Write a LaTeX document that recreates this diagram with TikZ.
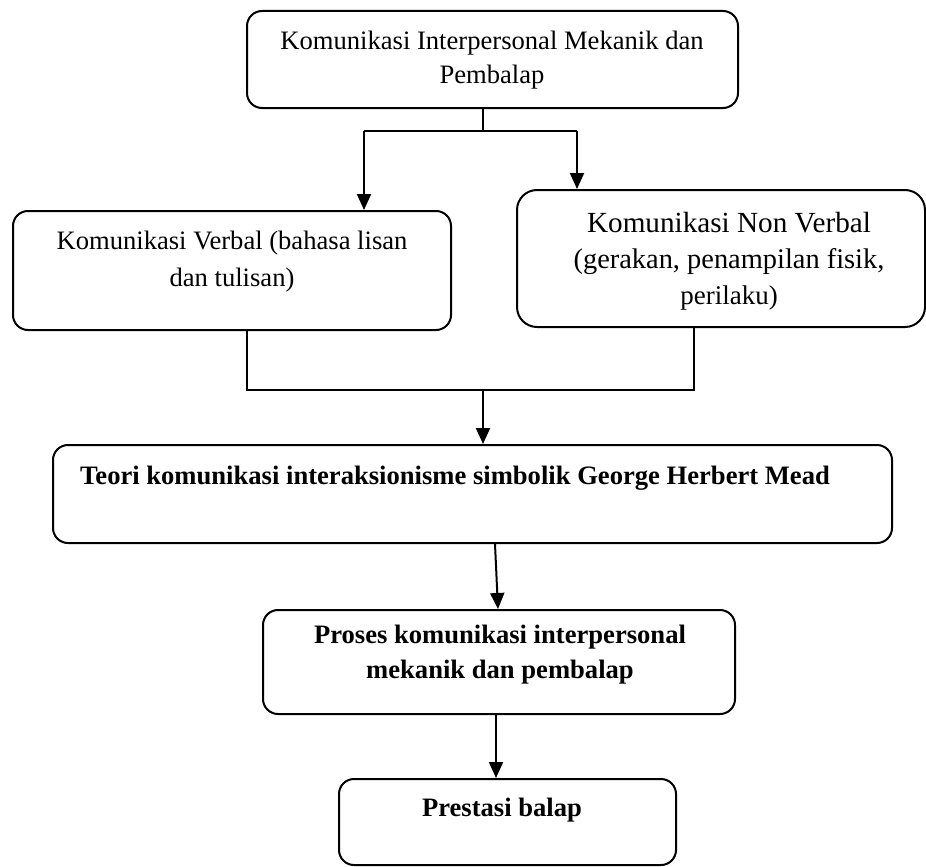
\documentclass[tikz,border=0pt]{standalone}
\usepackage{fontspec}
\setmainfont{Liberation Serif}
\usetikzlibrary{arrows.meta}
\begin{document}
\begin{tikzpicture}[x=1pt,y=-1pt,
  box/.style={draw,line width=2pt,rounded corners=15pt,minimum width=#1,inner sep=0pt},
  lbl/.style={align=center,inner sep=0pt,font=\fontsize{26.6}{35}\selectfont},
  lblb/.style={align=center,inner sep=0pt,font=\fontsize{26.6}{35}\selectfont\bfseries},
  conn/.style={line width=2pt},
  arr/.style={line width=2pt,-{Triangle[width=14pt,length=16pt]}}]
\useasboundingbox (0,0) rectangle (926,867);
% boxes
\node[box=491pt,minimum height=97pt] (top) at (492.5,59.5) {};
\node[box=438pt,minimum height=119pt] (verbal) at (232,270.5) {};
\node[box=408pt,minimum height=137pt,rounded corners=20pt] (nonverbal) at (721,258.5) {};
\node[box=839pt,minimum height=98pt] (teori) at (472.5,494) {};
\node[box=472pt,minimum height=104pt] (proses) at (499,662) {};
\node[box=337pt,minimum height=86pt] (prestasi) at (507.5,822) {};
% labels
\node[lbl,font=\fontsize{26.6}{34}\selectfont] (ttop) at (492,60) {Komunikasi Interpersonal Mekanik dan\\Pembalap};
\node[lbl,font=\fontsize{26.6}{37}\selectfont] (tverbal) at (232,262) {Komunikasi Verbal (bahasa lisan\\dan tulisan)};
\node[lbl,font=\fontsize{29.2}{36}\selectfont] (tnon) at (729,261) {Komunikasi Non Verbal\\{\fontsize{28.4}{36}\selectfont(gerakan, penampilan fisik,}\\{\fontsize{27}{36}\selectfont perilaku)}};
\node[lblb] (tteori) at (455,478) {Teori komunikasi interaksionisme simbolik George Herbert Mead};
\node[lblb] (tproses) at (500,655) {Proses komunikasi interpersonal\\mekanik dan pembalap};
\node[lblb] (tprestasi) at (502,810) {Prestasi balap};
% connectors top
\coordinate (j1) at (483,131);
\coordinate (jl) at (364,131);
\coordinate (jr) at (577,131);
\draw[conn] (top.south -| j1) -- (j1);
\draw[conn] (jl) -- (jr);
\draw[arr] (jl) -- (jl |- verbal.north);
\draw[arr] (jr) -- (jr |- nonverbal.north);
% connectors middle
\coordinate (bl) at (247,390);
\coordinate (br) at (694,390);
\coordinate (bm) at (483,390);
\draw[conn] (verbal.south -| bl) -- (bl) -- (br) -- (nonverbal.south -| br);
\draw[arr] (bm) -- (bm |- teori.north);
% lower connectors
\coordinate (t1) at (495,543);
\coordinate (p1) at (498,610);
\draw[arr] (teori.south -| t1) -- (proses.north -| p1);
\coordinate (p2) at (496,714);
\draw[arr] (proses.south -| p2) -- (prestasi.north -| p2);
\end{tikzpicture}
\end{document}
